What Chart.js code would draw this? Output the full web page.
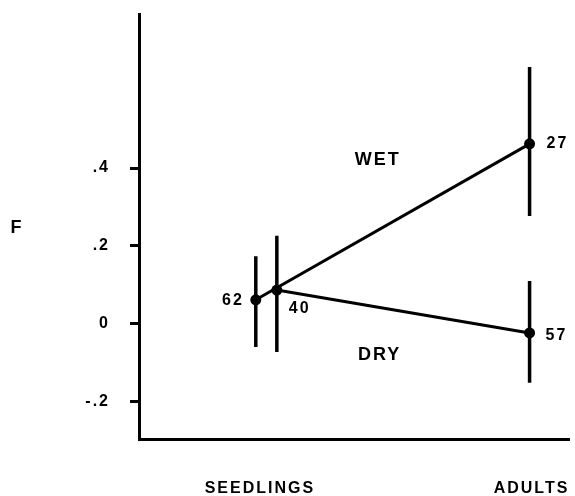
<!DOCTYPE html>
<html><head><meta charset="utf-8">
<script src="https://cdn.jsdelivr.net/npm/chart.js@4.4.1/dist/chart.umd.min.js"></script>
<style>html,body{margin:0;padding:0;background:#fff}#wrap{width:575px;height:496px;position:relative}</style>
</head><body><div id="wrap"><canvas id="c"></canvas></div>
<script>
// ---- data ----
const categories = ['SEEDLINGS', 'ADULTS'];
const yTickValues = [-0.2, 0, 0.2, 0.4];
const yTickLabels = ['-.2', '0', '.2', '.4'];
const seriesNames = ['WET', 'DRY'];
const wetF = [0.062, 0.462];
const wetLow = [-0.059, 0.277];
const wetHigh = [0.174, 0.659];
const wetN = ['62', '27'];
const dryF = [0.087, -0.023];
const dryLow = [-0.072, -0.151];
const dryHigh = [0.226, 0.110];
const dryN = ['40', '57'];
const yAxisTitle = 'F';

// ---- styles / layout ----
const FONT = '"Liberation Sans", Arial, Helvetica, sans-serif';
const wetDodge = [-0.015, -0.007];
const dryDodge = [0.0625, -0.007];
const wetLabelStyle = [{dx: -12, dy: 1, align: 'right'}, {dx: 17, dy: 0, align: 'left'}];
const dryLabelStyle = [{dx: 12, dy: 19, align: 'left'}, {dx: 16, dy: 3, align: 'left'}];
const seriesLabelAnchor = [{x: 0.434, y: 0.42}, {x: 0.441, y: -0.08}];

function pts(vals, dodge) { return vals.map((v, i) => ({x: i + dodge[i], y: v})); }
function errBars(low, high, dodge) {
  return low.map((l, i) => ({
    data: [{x: i + dodge[i], y: l}, {x: i + dodge[i], y: high[i]}],
    showLine: true, borderColor: '#000', borderWidth: 3.5, pointRadius: 0, pointHoverRadius: 0
  }));
}

const datasets = [
  {label: seriesNames[0], data: pts(wetF, wetDodge), showLine: true, borderColor: '#000', backgroundColor: '#000',
   borderWidth: 3, pointRadius: 5.5, pointBorderWidth: 0},
  {label: seriesNames[1], data: pts(dryF, dryDodge), showLine: true, borderColor: '#000', backgroundColor: '#000',
   borderWidth: 3, pointRadius: 5.5, pointBorderWidth: 0},
  ...errBars(wetLow, wetHigh, wetDodge),
  ...errBars(dryLow, dryHigh, dryDodge)
];

function zeroPad(s) { s.paddingTop = 0; s.paddingBottom = 0; s.paddingLeft = 0; s.paddingRight = 0; }

const annot = {
  id: 'annot',
  beforeUpdate(chart) { chart.ctx.letterSpacing = '2px'; },
  beforeDraw(chart) { chart.ctx.letterSpacing = '2px'; },
  afterDatasetsDraw(chart) {
    const {ctx, scales: {x, y}} = chart;
    ctx.save();
    ctx.letterSpacing = '2px';
    ctx.fillStyle = '#000';
    ctx.textBaseline = 'middle';
    ctx.font = 'bold 16px ' + FONT;
    const groups = [[wetN, wetF, wetDodge, wetLabelStyle], [dryN, dryF, dryDodge, dryLabelStyle]];
    groups.forEach(([ns, fs, dodge, st]) => {
      ns.forEach((n, i) => {
        ctx.textAlign = st[i].align;
        ctx.fillText(n, x.getPixelForValue(i + dodge[i]) + st[i].dx, y.getPixelForValue(fs[i]) + st[i].dy);
      });
    });
    ctx.font = 'bold 18px ' + FONT;
    ctx.textAlign = 'center';
    seriesNames.forEach((s, i) => {
      ctx.fillText(s, x.getPixelForValue(seriesLabelAnchor[i].x), y.getPixelForValue(seriesLabelAnchor[i].y));
    });
    ctx.fillText(yAxisTitle, 17, y.getPixelForValue(0.246));
    ctx.restore();
  }
};

new Chart(document.getElementById('c'), {
  type: 'scatter',
  data: {datasets},
  plugins: [annot],
  options: {
    responsive: true, maintainAspectRatio: false, animation: false,
    layout: {padding: {left: 0, top: 14, right: 5, bottom: 0}},
    plugins: {legend: {display: false}, tooltip: {enabled: false}},
    scales: {
      x: {
        type: 'linear', min: -0.445, max: 1.14,
        afterBuildTicks(s) { s.ticks = categories.map((_, i) => ({value: i})); },
        afterFit(s) { s.height = 57; zeroPad(s); },
        ticks: {callback: (v, i) => categories[i], color: '#000', font: {family: FONT, size: 16, weight: 'bold'},
                padding: 40, maxRotation: 0, autoSkip: false},
        grid: {display: false, drawTicks: false},
        border: {display: true, color: '#000', width: 3}
      },
      y: {
        min: -0.295, max: 0.795,
        afterBuildTicks(s) { s.ticks = yTickValues.map(v => ({value: v})); },
        afterFit(s) { s.width = 139; zeroPad(s); },
        ticks: {callback: (v, i) => yTickLabels[i], color: '#000', font: {family: FONT, size: 16, weight: 'bold'}, padding: 20},
        grid: {drawOnChartArea: false, drawTicks: true, tickLength: 9, tickWidth: 3, tickColor: '#000', color: '#000'},
        border: {display: true, color: '#000', width: 3}
      }
    }
  }
});
</script></body></html>
